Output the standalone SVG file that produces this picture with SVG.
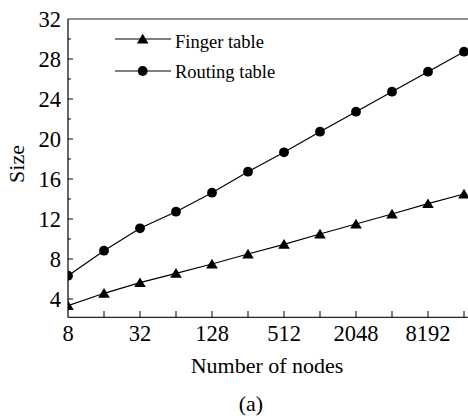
<svg xmlns="http://www.w3.org/2000/svg" width="468" height="419" viewBox="0 0 468 419">
<defs>
<style>
text{font-family:"Liberation Serif","Times New Roman",serif;fill:#000}
.tl{font-size:22.5px}
.lg{font-size:18.5px}
.ax{stroke:#000;stroke-width:1.2;fill:none}
.fr{stroke:#222;stroke-width:1.2;fill:none}
.tk{stroke:#000;stroke-width:1;fill:none}
.ln{stroke:#000;stroke-width:1.2;fill:none}
</style>
<clipPath id="plot"><rect x="68" y="19" width="400" height="298"/></clipPath>
<symbol id="tri" overflow="visible"><path d="M0,-5.2 L5.8,4.4 L-5.8,4.4 Z" fill="#000"/></symbol>
<symbol id="dot" overflow="visible"><circle r="4.9" fill="#000"/></symbol>
</defs>
<rect width="468" height="419" fill="#fff"/>

<g id="axes">
<line class="fr" x1="68" y1="19" x2="468" y2="19"/>
<line class="ax" x1="68" y1="19" x2="68" y2="317.5"/>
<line class="fr" x1="68" y1="317.3" x2="468" y2="317.3"/>
<g id="yticks" class="tk">
<path d="M68,299h5M68,259h5M68,219h5M68,179h5M68,139h5M68,99h5M68,59h5M68,279h3M68,239h3M68,199h3M68,159h3M68,119h3M68,79h3M68,39h3"/>
</g>
<g id="xticks" class="tk">
<path d="M104,317v-6M140,317v-6M176,317v-6M212,317v-6M248,317v-6M284,317v-6M320,317v-6M356,317v-6M392,317v-6M428,317v-6M464,317v-6"/>
</g>
<g id="ylabels" class="tl" text-anchor="end">
<text x="61" y="306.5">4</text>
<text x="61" y="266.5">8</text>
<text x="61" y="226.5">12</text>
<text x="61" y="186.5">16</text>
<text x="61" y="146.5">20</text>
<text x="61" y="106.5">24</text>
<text x="61" y="66.5">28</text>
<text x="61" y="26.5">32</text>
</g>
<g id="xlabels" class="tl" text-anchor="middle">
<text x="68" y="341">8</text>
<text x="140" y="341">32</text>
<text x="212" y="341">128</text>
<text x="284" y="341">512</text>
<text x="356" y="341">2048</text>
<text x="428" y="341">8192</text>
</g>
<text x="267" y="373" text-anchor="middle" font-size="22">Number of nodes</text>
<text transform="translate(24,164) rotate(-90)" text-anchor="middle" font-size="22">Size</text>
<text x="251" y="411" text-anchor="middle" font-size="22">(a)</text>
</g>

<g id="series" clip-path="url(#plot)">
<g id="routing">
<polyline class="ln" points="68,275.7 104,250.7 140,228.3 176,211.7 212,192.7 248,171.7 284,152.3 320,131.7 356,111.7 392,91.7 428,71.7 464,51.7"/>
<use href="#dot" x="68" y="275.7"/><use href="#dot" x="104" y="250.7"/><use href="#dot" x="140" y="228.3"/><use href="#dot" x="176" y="211.7"/><use href="#dot" x="212" y="192.7"/><use href="#dot" x="248" y="171.7"/><use href="#dot" x="284" y="152.3"/><use href="#dot" x="320" y="131.7"/><use href="#dot" x="356" y="111.7"/><use href="#dot" x="392" y="91.7"/><use href="#dot" x="428" y="71.7"/><use href="#dot" x="464" y="51.7"/>
</g>
<g id="finger">
<polyline class="ln" points="68,305.7 104,293.3 140,282.7 176,273.3 212,264 248,254 284,244.3 320,234 356,224 392,214 428,203.7 464,194"/>
<use href="#tri" x="68" y="305.7"/><use href="#tri" x="104" y="293.3"/><use href="#tri" x="140" y="282.7"/><use href="#tri" x="176" y="273.3"/><use href="#tri" x="212" y="264"/><use href="#tri" x="248" y="254"/><use href="#tri" x="284" y="244.3"/><use href="#tri" x="320" y="234"/><use href="#tri" x="356" y="224"/><use href="#tri" x="392" y="214"/><use href="#tri" x="428" y="203.7"/><use href="#tri" x="464" y="194"/>
</g>
</g>

<g id="legend">
<line class="ln" x1="115" y1="39" x2="171" y2="39"/>
<use href="#tri" x="142.7" y="39"/>
<text class="lg" x="175" y="48">Finger table</text>
<line class="ln" x1="115" y1="71" x2="171" y2="71"/>
<use href="#dot" x="142.7" y="71"/>
<text class="lg" x="175" y="77.5">Routing table</text>
</g>
</svg>
